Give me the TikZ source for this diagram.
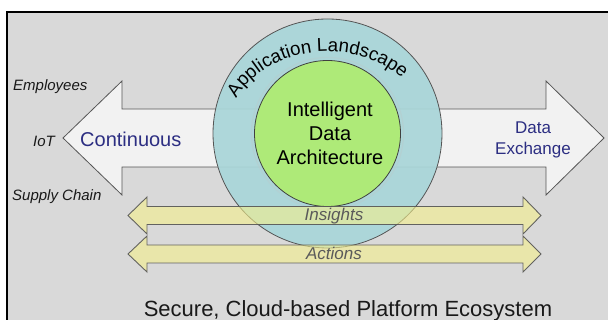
\documentclass[tikz,border=0pt]{standalone}
\usepackage{fontspec}
\setmainfont{Liberation Sans}
\usetikzlibrary{decorations.text,calc}

\definecolor{panelgray}{RGB}{217,217,217}
\definecolor{arrowwhite}{RGB}{242,242,242}
\definecolor{edgegray}{RGB}{85,85,85}
\definecolor{ringteal}{RGB}{169,214,217}
\definecolor{coregreen}{RGB}{174,234,120}
\definecolor{flowyellow}{RGB}{245,240,140}
\definecolor{labelblue}{RGB}{44,46,130}
\definecolor{flowtext}{RGB}{90,90,90}

\tikzset{
  bigarrow/.style={fill=arrowwhite, draw=edgegray, line width=0.8pt, line join=miter},
  flowarrow/.style={fill=flowyellow, fill opacity=0.6, draw=edgegray, draw opacity=0.9, line width=0.9pt},
  sidelabel/.style={font=\fontsize{15}{15}\selectfont\itshape, text=black!90, inner sep=0pt, anchor=base west},
  flowlabel/.style={font=\fontsize{17}{17}\selectfont\itshape, text=flowtext, inner sep=0pt, anchor=base},
  bluelabel/.style={font=\fontsize{17}{21}\selectfont, text=labelblue, inner sep=0pt, align=center},
}

\begin{document}
\begin{tikzpicture}[x=1pt, y=1pt]
  \useasboundingbox (0,0) rectangle (608,320);

  % panel with black frame on top and left
  \fill[panelgray] (7,0) rectangle (608,308);
  \draw[black, line width=2.5pt] (7,-2) -- (7,308) -- (610,308);

  % double arrow behind the rings
  \draw[bigarrow] (63,182) -- (122,239) -- (122,211) -- (546,211) -- (546,239)
    -- (604,182) -- (546,125) -- (546,153) -- (122,153) -- (122,125) -- cycle;

  % rings
  \coordinate (c) at (327.5,186.5);
  \fill[ringteal, fill opacity=0.93] (c) circle[radius=114.5];
  \draw[edgegray, line width=0.8pt] (c) circle[radius=114.5];
  \draw[ringteal!80!black!60, line width=1.4pt, opacity=0.5] (c) circle[radius=76];
  \fill[coregreen] (c) circle[radius=73];
  \draw[black!75, line width=0.8pt] (c) circle[radius=73];

  % arched title on the outer ring
  \path[decorate, decoration={text along path,
      text={|\fontsize{18.7}{18.7}\selectfont|Application Landscape},
      text align=center}]
    ($(c)+({101*cos(159)},{82*sin(159)})$)
    arc[start angle=159, end angle=38, x radius=101, y radius=82];

  \node[font=\fontsize{20}{24.2}\selectfont, align=center, inner sep=0pt, anchor=base]
    (core) at (330,155) {Intelligent\\Data\\Architecture};

  % flow arrows
  \draw[flowarrow] (128,104.5) -- (147,123) -- (147,113.5) -- (523,113.5) -- (523,123)
    -- (541,104.5) -- (523,86) -- (523,95.5) -- (147,95.5) -- (147,86) -- cycle;
  \draw[flowarrow] (128,66) -- (147,84) -- (147,75) -- (523,75) -- (523,84)
    -- (541,66) -- (523,48) -- (523,57) -- (147,57) -- (147,48) -- cycle;

  \node[flowlabel] (insights) at (334,99) {Insights};
  \node[flowlabel] (actions) at (334,60) {Actions};

  % side labels
  \node[sidelabel] (employees) at (13,229) {Employees};
  \node[sidelabel] (iot) at (33,173) {IoT};
  \node[sidelabel] (supply) at (12,119) {Supply Chain};

  \node[font=\fontsize{20}{20}\selectfont, text=labelblue, inner sep=0pt, anchor=base west]
    (continuous) at (80,173) {Continuous};
  \node[bluelabel, anchor=base] (exchange) at (533,165) {Data\\Exchange};

  \node[font=\fontsize{22}{22}\selectfont, text=black!90, inner sep=0pt, anchor=base]
    (platform) at (348,3.5) {Secure, Cloud-based Platform Ecosystem};
\end{tikzpicture}
\end{document}
